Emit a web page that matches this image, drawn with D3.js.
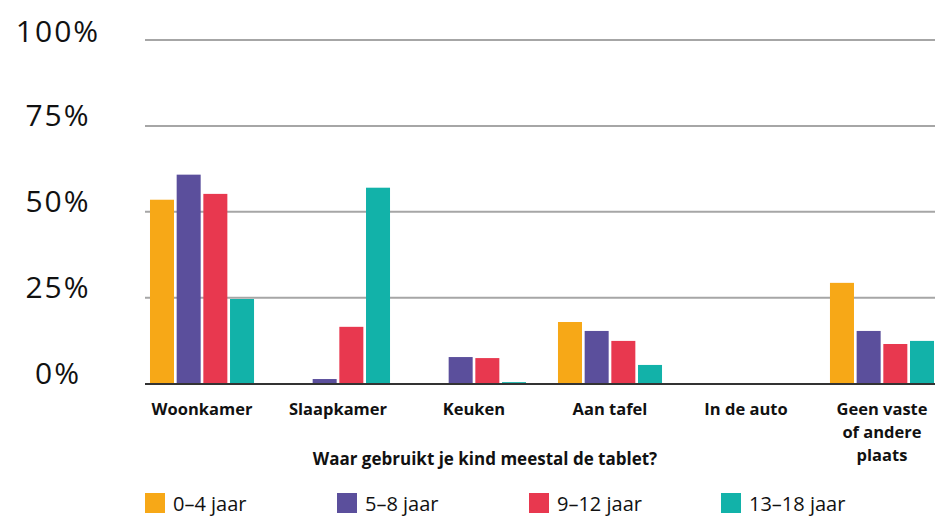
<!DOCTYPE html>
<html>
<head>
<meta charset="utf-8">
<script src="https://cdn.jsdelivr.net/npm/d3@7"></script>
<style>
  body { margin: 0; background: #fff; }
  svg { display: block; font-family: "Open Sans", Lato, sans-serif; }
</style>
</head>
<body>
<script>
// tablet usage per room, per age group (percent)
var categories = ['Woonkamer', 'Slaapkamer', 'Keuken', 'Aan tafel', 'In de auto', 'Geen vaste of andere plaats'];
var series = ['0-4 jaar', '5-8 jaar', '9-12 jaar', '13-18 jaar'];
var colors = ['#f7a817', '#5b4f9c', '#e8384f', '#12b2a9'];

var age0_4   = [53.5, 0,    0,   17.9, 0, 29.3];
var age5_8   = [60.8, 1.3,  7.7, 15.3, 0, 15.3];
var age9_12  = [55.2, 16.5, 7.4, 12.4, 0, 11.5];
var age13_18 = [24.6, 57,   0.4, 5.4,  0, 12.4];

var yTicks = [0, 25, 50, 75, 100];
var xLabelLines = [['Woonkamer'], ['Slaapkamer'], ['Keuken'], ['Aan tafel'], ['In de auto'], ['Geen vaste', 'of andere', 'plaats']];
var xTitle = 'Waar gebruikt je kind meestal de tablet?';

var width = 935,
    height = 517;

var values = [age0_4, age5_8, age9_12, age13_18];

var svg = d3.select('body').append('svg')
    .attr('width', width)
    .attr('height', height);

var y = d3.scaleLinear().domain([0, 100]).range([383.5, 40]);

var x0 = d3.scaleBand()
    .domain(categories)
    .range([134, 950])
    .paddingInner(0.235)
    .paddingOuter(0.1176);

var x1 = d3.scaleBand()
    .domain(series)
    .range([0, x0.bandwidth()])
    .paddingInner(0.1);

// gridlines
svg.append('g').selectAll('line')
    .data(yTicks.filter(function(d){ return d > 0; }))
  .enter().append('line')
    .attr('x1', 145)
    .attr('x2', width)
    .attr('y1', function(d){ return y(d); })
    .attr('y2', function(d){ return y(d); })
    .style('stroke', '#a6a6a6')
    .style('stroke-width', 2);

// y labels
svg.append('g').selectAll('text')
    .data(yTicks)
  .enter().append('text')
    .attr('x', 58)
    .attr('y', function(d){ return y(d) + (d === 100 ? 2 : 0); })
    .attr('text-anchor', 'middle')
    .style('font-size', '30px')
    .style('letter-spacing', '2px')
    .style('fill', '#111')
    .text(function(d){ return d + '%'; });

// bars
var groups = svg.append('g').selectAll('g')
    .data(categories)
  .enter().append('g')
    .attr('transform', function(d){ return 'translate(' + x0(d) + ',0)'; });

groups.selectAll('rect')
    .data(function(d, i){
      return series.map(function(s, j){ return {s: s, v: values[j][i], c: colors[j]}; });
    })
  .enter().append('rect')
    .attr('x', function(d){ return x1(d.s); })
    .attr('width', x1.bandwidth())
    .attr('y', function(d){ return y(d.v); })
    .attr('height', function(d){ return y(0) - y(d.v); })
    .style('fill', function(d){ return d.c; });

// baseline
svg.append('line')
    .attr('x1', 145)
    .attr('x2', width)
    .attr('y1', y(0) + 0.5)
    .attr('y2', y(0) + 0.5)
    .style('stroke', '#333')
    .style('stroke-width', 2);

// category labels
var catLabels = svg.append('g').selectAll('text')
    .data(categories)
  .enter().append('text')
    .attr('x', function(d){ return x0(d) + x0.bandwidth() / 2; })
    .attr('y', 415)
    .attr('text-anchor', 'middle')
    .style('font-size', '16.5px')
    .style('font-weight', 'bold')
    .style('fill', '#111');

catLabels.selectAll('tspan')
    .data(function(d, i){ return xLabelLines[i]; })
  .enter().append('tspan')
    .attr('x', function(){ var p = d3.select(this.parentNode).datum(); return x0(p) + x0.bandwidth() / 2; })
    .attr('dy', function(d, i){ return i === 0 ? 0 : 23; })
    .text(function(d){ return d; });

// axis title
svg.append('text')
    .attr('x', 485)
    .attr('y', 465)
    .attr('text-anchor', 'middle')
    .style('font-size', '17px')
    .style('font-weight', 'bold')
    .style('fill', '#111')
    .text(xTitle);

// legend
var legend = svg.append('g').selectAll('g')
    .data(series)
  .enter().append('g')
    .attr('transform', function(d, i){ return 'translate(' + (145 + i * 192) + ',493)'; });

legend.append('rect')
    .attr('width', 20)
    .attr('height', 20)
    .style('fill', function(d, i){ return colors[i]; });

legend.append('text')
    .attr('x', 28)
    .attr('y', 18)
    .style('font-size', '20px')
    .style('fill', '#111')
    .text(function(d){ return d.replace('-', '\u2013'); });
</script>
</body>
</html>
